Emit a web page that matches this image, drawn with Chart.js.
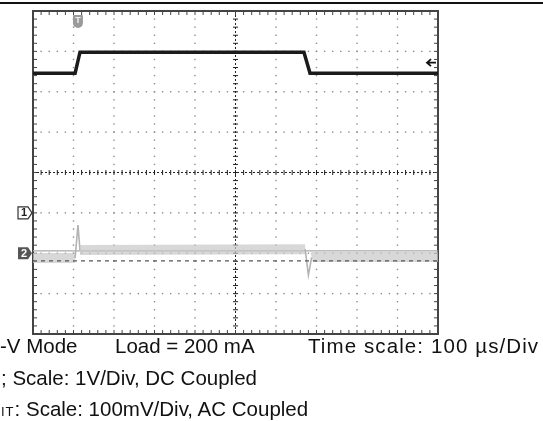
<!DOCTYPE html>
<html>
<head>
<meta charset="utf-8">
<script src="https://cdn.jsdelivr.net/npm/chart.js@4.4.1/dist/chart.umd.min.js"></script>
<style>
  html, body { margin: 0; padding: 0; background: #fff; overflow: hidden; }
  #wrap { position: relative; width: 543px; height: 421px; overflow: hidden; }
  #scope { position: absolute; left: 0; top: 0; }
  .cap { position: absolute; font-family: "Liberation Sans", Arial, sans-serif; font-size: 20.5px; color: #111; white-space: pre; line-height: 1; }
  .sub { font-size: 13px; letter-spacing: 1px; }
</style>
</head>
<body>
<div id="wrap">
  <canvas id="scope" width="543" height="421"></canvas>
  <div class="cap" style="left:0;top:336px">-V Mode</div>
  <div class="cap" style="left:115px;top:336px">Load = 200 mA</div>
  <div class="cap" style="left:308px;top:336px;letter-spacing:1.1px">Time scale: 100 µs/Div</div>
  <div class="cap" style="left:1px;top:368px">; Scale: 1V/Div, DC Coupled</div>
  <div class="cap" style="left:1px;top:399px"><span class="sub">IT</span>: Scale: 100mV/Div, AC Coupled</div>
</div>
<script>
// time axis, microseconds (100 us per division, 10 divisions)
const xTicks = [0, 100, 200, 300, 400, 500, 600, 700, 800, 900, 1000];
// channel 1 volts (1 V/div, ground marker one division below centre)
const ch1Divs = [-3, -2, -1, 0, 1, 2, 3, 4, 5];

// channel 1 trace (V)
const ch1Time = [0, 104, 116, 669, 684, 1000];
const ch1Volts = [3.46, 3.46, 3.98, 3.98, 3.46, 3.46];

// channel 2 trace (mV, 100 mV/div, AC coupled)
const ch2Time = [0, 104, 111, 116, 120, 672, 680, 688, 692, 1000];
const ch2mV = [-12, -12, 70, 8, 8, 10, -54, -10, -9, -9];

// flat reference lines seen across channel 2
const refTime = [0, 1000];
const ch2BaseMV = [6, 6];
const ch2DashMV = [-19, -19];

const toXY = (xs, ys) => xs.map((t, i) => ({ x: t, y: ys[i] }));

// scope screen: frame, dotted graticule, ticks, channel markers
const scopeScreen = {
  id: "scopeScreen",
  beforeDatasetsDraw(chart) {
    const { ctx, chartArea: a, scales } = chart;
    const x = scales.x, y = scales.y1;
    const divW = (a.right - a.left) / 10;
    const divH = (a.bottom - a.top) / 8;
    ctx.save();

    // top rule of the page
    ctx.fillStyle = "#111";
    ctx.fillRect(0, 2, 543, 2);

    // dotted grid lines
    ctx.fillStyle = "#8d8d8d";
    xTicks.slice(1, -1).forEach((t) => {
      if (t === 500) return;
      const px = x.getPixelForValue(t);
      for (let py = a.top; py <= a.bottom; py += divH / 5) ctx.fillRect(px - 0.7, py - 0.7, 1.4, 1.4);
    });
    ch1Divs.slice(1, -1).forEach((v) => {
      if (v === 1) return;
      const py = y.getPixelForValue(v);
      for (let px = a.left; px <= a.right; px += divW / 5) ctx.fillRect(px - 0.7, py - 0.7, 1.4, 1.4);
    });

    // centre cross with minor ticks
    ctx.strokeStyle = "#222";
    ctx.lineWidth = 1;
    const cx = x.getPixelForValue(500);
    const cy = y.getPixelForValue(1);
    ctx.setLineDash([2, 2]);
    ctx.beginPath();
    ctx.moveTo(cx, a.top); ctx.lineTo(cx, a.bottom);
    ctx.moveTo(a.left, cy); ctx.lineTo(a.right, cy);
    ctx.stroke();
    ctx.setLineDash([]);
    ctx.beginPath();
    for (let py = a.top; py <= a.bottom; py += divH / 5) { ctx.moveTo(cx - 2.5, py); ctx.lineTo(cx + 2.5, py); }
    for (let px = a.left; px <= a.right; px += divW / 5) { ctx.moveTo(px, cy - 2.5); ctx.lineTo(px, cy + 2.5); }
    ctx.stroke();

    // frame with inward ticks
    ctx.strokeStyle = "#444";
    ctx.lineWidth = 2;
    ctx.strokeRect(a.left, a.top, a.right - a.left, a.bottom - a.top);
    ctx.lineWidth = 1;
    ctx.beginPath();
    for (let py = a.top; py <= a.bottom; py += divH / 5) {
      ctx.moveTo(a.left, py); ctx.lineTo(a.left + 4, py);
      ctx.moveTo(a.right, py); ctx.lineTo(a.right - 4, py);
    }
    for (let px = a.left; px <= a.right; px += divW / 5) {
      ctx.moveTo(px, a.top); ctx.lineTo(px, a.top + 4);
      ctx.moveTo(px, a.bottom); ctx.lineTo(px, a.bottom - 4);
    }
    ctx.stroke();
    ctx.restore();
  },
  afterDatasetsDraw(chart) {
    const { ctx, chartArea: a, scales } = chart;
    ctx.save();
    ctx.font = "bold 11px 'Liberation Sans', Arial, sans-serif";
    ctx.textAlign = "center";
    ctx.textBaseline = "middle";

    // channel 1 ground marker (outlined tag)
    const y1 = scales.y1.getPixelForValue(0);
    ctx.beginPath();
    ctx.moveTo(a.left - 15, y1 - 6); ctx.lineTo(a.left - 5, y1 - 6); ctx.lineTo(a.left - 1, y1);
    ctx.lineTo(a.left - 5, y1 + 6); ctx.lineTo(a.left - 15, y1 + 6); ctx.closePath();
    ctx.fillStyle = "#fff"; ctx.fill();
    ctx.strokeStyle = "#333"; ctx.lineWidth = 1.2; ctx.stroke();
    ctx.fillStyle = "#222";
    ctx.fillText("1", a.left - 9, y1 + 0.5);

    // channel 2 ground marker (filled tag)
    const y2 = scales.y2.getPixelForValue(0);
    ctx.beginPath();
    ctx.moveTo(a.left - 15, y2 - 6); ctx.lineTo(a.left - 5, y2 - 6); ctx.lineTo(a.left - 1, y2);
    ctx.lineTo(a.left - 5, y2 + 6); ctx.lineTo(a.left - 15, y2 + 6); ctx.closePath();
    ctx.fillStyle = "#555"; ctx.fill();
    ctx.fillStyle = "#fff";
    ctx.fillText("2", a.left - 9, y2 + 0.5);

    // trigger position marker at top
    const tx = scales.x.getPixelForValue(111);
    ctx.fillStyle = "#9a9a9a";
    ctx.beginPath();
    ctx.roundRect(tx - 5, a.top + 4, 10, 13, [1, 1, 5, 5]);
    ctx.fill();
    ctx.fillStyle = "#eee";
    ctx.font = "bold 9px 'Liberation Sans', Arial, sans-serif";
    ctx.fillText("T", tx, a.top + 10);

    // trigger level arrow on the right
    const ty = scales.y1.getPixelForValue(3.72);
    ctx.strokeStyle = "#111"; ctx.lineWidth = 1.8;
    ctx.beginPath();
    ctx.moveTo(a.right - 2, ty); ctx.lineTo(a.right - 11, ty);
    ctx.moveTo(a.right - 7, ty - 3.5); ctx.lineTo(a.right - 11, ty); ctx.lineTo(a.right - 7, ty + 3.5);
    ctx.stroke();
    ctx.restore();
  }
};

new Chart(document.getElementById("scope").getContext("2d"), {
  type: "line",
  data: {
    datasets: [
      {
        label: "CH2 base",
        data: toXY(refTime, ch2BaseMV),
        yAxisID: "y2",
        borderColor: "#a9a9a9",
        borderWidth: 1.3,
        pointRadius: 0,
        order: 4,
      },
      {
        label: "CH2",
        data: toXY(ch2Time, ch2mV),
        yAxisID: "y2",
        borderColor: "rgba(190, 190, 190, 0.75)",
        pointRadius: 0,
        tension: 0,
        segment: {
          // flat stretches show as a wide noise band, spikes as a thin line
          borderWidth: (c) => (Math.abs(c.p1.parsed.y - c.p0.parsed.y) < 15 ? 10 : 1.6),
          borderColor: (c) => (Math.abs(c.p1.parsed.y - c.p0.parsed.y) < 15 ? "rgba(200, 200, 200, 0.7)" : "#b3b3b3"),
        },
        order: 3,
      },
      {
        label: "CH2 ref",
        data: toXY(refTime, ch2DashMV),
        yAxisID: "y2",
        borderColor: "#555",
        borderWidth: 1.3,
        borderDash: [4, 4],
        pointRadius: 0,
        order: 2,
      },
      {
        label: "CH1",
        data: toXY(ch1Time, ch1Volts),
        yAxisID: "y1",
        borderColor: "#1b1b1b",
        borderWidth: 3.5,
        pointRadius: 0,
        tension: 0,
        order: 1,
      },
    ],
  },
  options: {
    responsive: false,
    animation: false,
    events: [],
    layout: { padding: { left: 33, right: 105, top: 11, bottom: 87 } },
    plugins: { legend: { display: false }, tooltip: { enabled: false } },
    scales: {
      x: { type: "linear", min: 0, max: 1000, display: false },
      y1: { type: "linear", min: -3, max: 5, display: false },
      y2: { type: "linear", min: -200, max: 600, display: false },
    },
  },
  plugins: [scopeScreen],
});
</script>
</body>
</html>
